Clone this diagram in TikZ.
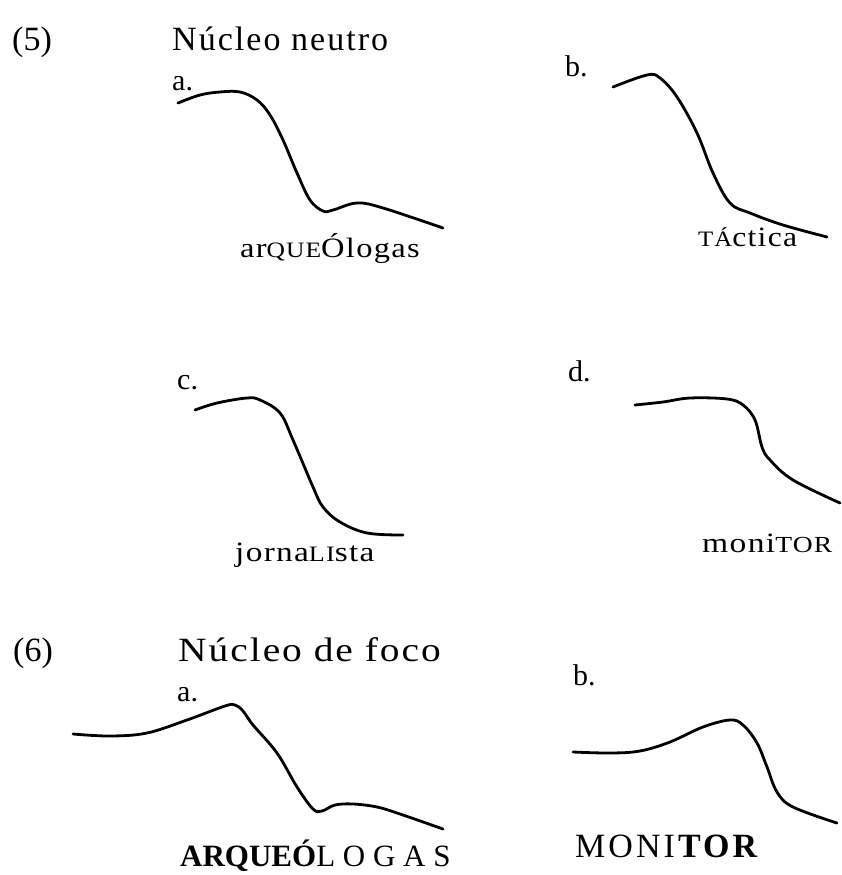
\documentclass[tikz,border=0pt]{standalone}
\usepackage{fontspec}
\setmainfont{Liberation Serif}
\newcommand{\wide}[2]{\scalebox{#1}[1]{#2}}
\begin{document}
\begin{tikzpicture}[x=1pt,y=-1pt,
  contour/.style={line width=2.8pt,line cap=round,line join=round},
  txt/.style={inner sep=0pt,anchor=base west},
  head/.style={txt,font=\fontsize{34}{40}\selectfont},
  letter/.style={txt,font=\fontsize{30}{36}\selectfont},
  word/.style={txt,font=\fontsize{28}{32}\selectfont\addfontfeature{LetterSpace=4}},
  bigword/.style={txt,font=\fontsize{31}{36}\selectfont}]
\useasboundingbox (0,0) rectangle (841,875);
% (5)
\node[head] (n5) at (12,51) {(5)};
\node[head,font=\fontsize{34}{40}\selectfont\addfontfeature{LetterSpace=6}] (t5) at (172,51) {Núcleo neutro};
\node[letter] (la) at (172,90) {a.};
\draw[contour] plot[smooth,tension=0.6] coordinates {(178,103) (200,95) (220,92) (240,92) (257,100) (270,115) (283,140) (297,173) (310,200) (323,211) (333,210) (357,203) (383,208) (443,228)};
\node[word] (w5a) at (240,257) {\wide{1.16}{ar{\fontsize{22}{26}\selectfont QUE}Ólogas}};
\node[letter] (lb) at (565,77) {b.};
\draw[contour] plot[smooth,tension=0.6] coordinates {(613,87) (647,75) (660,78) (677,97) (697,133) (713,173) (730,203) (750,213) (783,225) (827,237)};
\node[word] (w5b) at (698,246) {\wide{1.13}{{\fontsize{22}{26}\selectfont TÁ}ctica}};
\node[letter] (lc) at (177,389) {c.};
\draw[contour] plot[smooth,tension=0.6] coordinates {(195,410) (217,403) (247,398) (260,400) (280,413) (293,440) (313,487) (323,507) (340,522) (367,533) (403,535)};
\node[word] (w5c) at (235,561) {\wide{1.19}{jorna{\fontsize{22}{26}\selectfont LI}sta}};
\node[letter] (ld) at (568,381) {d.};
\draw[contour] plot[smooth,tension=0.6] coordinates {(635,405) (663,402) (690,398) (727,399) (743,405) (755,420) (762,447) (770,460) (793,480) (840,503)};
\node[word] (w5d) at (702,552) {\wide{1.2}{moni{\fontsize{23}{26}\selectfont TOR}}};
% (6)
\node[head] (n6) at (13,661) {(6)};
\node[head,font=\fontsize{34}{40}\selectfont\addfontfeature{LetterSpace=5}] (t6) at (178,661) {\wide{1.16}{Núcleo de foco}};
\node[letter] (la6) at (177,701) {a.};
\draw[contour] plot[smooth,tension=0.6] coordinates {(73,734) (110,736) (147,733) (187,720) (225,706) (235,705) (243,711) (253,725) (277,753) (297,787) (313,809) (322,811) (335,805) (353,804) (377,807) (400,814) (443,829)};
\node[bigword] (w6a) at (180,866) {\textbf{ARQUEÓ}L O G A S};
\node[letter] (lb6) at (573,685) {b.};
\draw[contour] plot[smooth,tension=0.6] coordinates {(573,752) (610,753) (640,751) (670,742) (703,727) (730,720) (743,725) (757,743) (767,767) (777,792) (793,807) (837,823)};
\node[bigword,font=\fontsize{34}{40}\selectfont\addfontfeature{LetterSpace=9}] (w6b) at (575,857) {MONI\textbf{TOR}};
\end{tikzpicture}
\end{document}
